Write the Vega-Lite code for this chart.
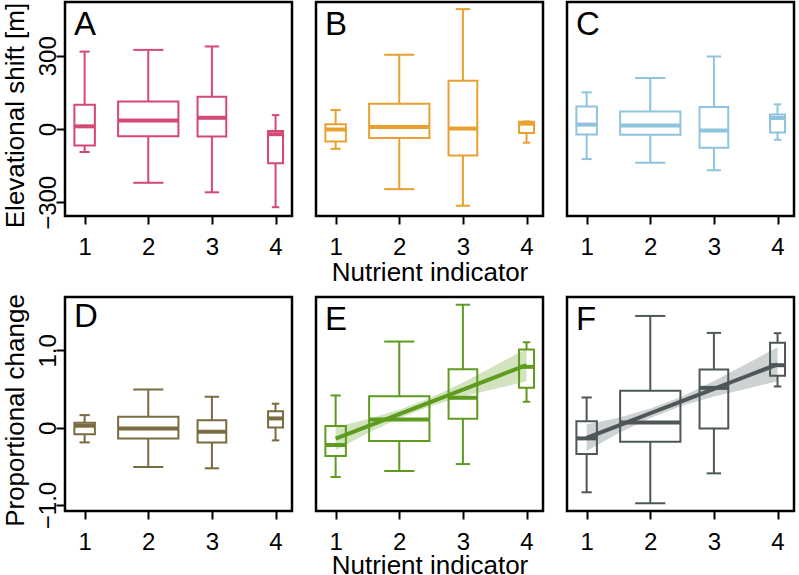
{
  "$schema": "https://vega.github.io/schema/vega-lite/v6.json",
  "padding": 0,
  "background": "white",
  "datasets": {
    "boxes": [
      {"panel":"A","x":1,"n":105,"lo":-94,"q1":-67,"med":11,"q3":99,"hi":317},
      {"panel":"A","x":2,"n":909,"lo":-220,"q1":-30,"med":35,"q3":113,"hi":324},
      {"panel":"A","x":3,"n":206,"lo":-259,"q1":-31,"med":46,"q3":132,"hi":338},
      {"panel":"A","x":4,"n":56,"lo":-320,"q1":-140,"med":-21,"q3":-8,"hi":57},
      {"panel":"B","x":1,"n":105,"lo":-81,"q1":-51,"med":-2,"q3":20,"hi":78},
      {"panel":"B","x":2,"n":909,"lo":-246,"q1":-37,"med":8,"q3":104,"hi":304},
      {"panel":"B","x":3,"n":206,"lo":-314,"q1":-108,"med":2,"q3":198,"hi":491},
      {"panel":"B","x":4,"n":56,"lo":-56,"q1":-16,"med":22,"q3":30,"hi":31},
      {"panel":"C","x":1,"n":105,"lo":-123,"q1":-22,"med":18,"q3":92,"hi":150},
      {"panel":"C","x":2,"n":909,"lo":-138,"q1":-23,"med":14,"q3":72,"hi":209},
      {"panel":"C","x":3,"n":206,"lo":-169,"q1":-77,"med":-6,"q3":90,"hi":297},
      {"panel":"C","x":4,"n":56,"lo":-44,"q1":-14,"med":45,"q3":59,"hi":101},
      {"panel":"D","x":1,"n":105,"lo":-0.19,"q1":-0.086,"med":0.026,"q3":0.065,"hi":0.163},
      {"panel":"D","x":2,"n":909,"lo":-0.508,"q1":-0.138,"med":-0.01,"q3":0.142,"hi":0.494},
      {"panel":"D","x":3,"n":206,"lo":-0.525,"q1":-0.19,"med":-0.052,"q3":0.098,"hi":0.40},
      {"panel":"D","x":4,"n":56,"lo":-0.164,"q1":0.004,"med":0.12,"q3":0.214,"hi":0.31},
      {"panel":"E","x":1,"n":105,"lo":-0.637,"q1":-0.366,"med":-0.224,"q3":0.021,"hi":0.417},
      {"panel":"E","x":2,"n":909,"lo":-0.56,"q1":-0.172,"med":0.107,"q3":0.408,"hi":1.114},
      {"panel":"E","x":3,"n":206,"lo":-0.47,"q1":0.116,"med":0.387,"q3":0.756,"hi":1.59},
      {"panel":"E","x":4,"n":56,"lo":0.335,"q1":0.516,"med":0.787,"q3":1.01,"hi":1.105},
      {"panel":"F","x":1,"n":105,"lo":-0.835,"q1":-0.34,"med":-0.138,"q3":0.085,"hi":0.391},
      {"panel":"F","x":2,"n":909,"lo":-0.977,"q1":-0.181,"med":0.068,"q3":0.477,"hi":1.445},
      {"panel":"F","x":3,"n":206,"lo":-0.59,"q1":-0.009,"med":0.515,"q3":0.752,"hi":1.226},
      {"panel":"F","x":4,"n":56,"lo":0.533,"q1":0.671,"med":0.808,"q3":1.097,"hi":1.222}
    ],
    "fits": [
      {"panel":"E","x":1,"fit":-0.14,"lo":-0.29,"hi":0.01},
      {"panel":"E","x":1.5,"fit":0.018,"lo":-0.072,"hi":0.108},
      {"panel":"E","x":2,"fit":0.177,"lo":0.122,"hi":0.232},
      {"panel":"E","x":2.5,"fit":0.335,"lo":0.28,"hi":0.39},
      {"panel":"E","x":3,"fit":0.493,"lo":0.403,"hi":0.583},
      {"panel":"E","x":3.5,"fit":0.652,"lo":0.502,"hi":0.802},
      {"panel":"E","x":4,"fit":0.81,"lo":0.6,"hi":1.02},
      {"panel":"F","x":1,"fit":-0.13,"lo":-0.3,"hi":0.04},
      {"panel":"F","x":1.5,"fit":0.028,"lo":-0.072,"hi":0.128},
      {"panel":"F","x":2,"fit":0.187,"lo":0.127,"hi":0.247},
      {"panel":"F","x":2.5,"fit":0.345,"lo":0.285,"hi":0.405},
      {"panel":"F","x":3,"fit":0.503,"lo":0.403,"hi":0.603},
      {"panel":"F","x":3.5,"fit":0.662,"lo":0.502,"hi":0.822},
      {"panel":"F","x":4,"fit":0.82,"lo":0.6,"hi":1.04}
    ]
  },
  "columns": 3,
  "spacing": {"row": 81, "column": 24},
  "bounds": "flush",
  "concat": [
    {
      "title": {"text": "A"},
      "width": 227, "height": 214,
      "data": {"name": "boxes"},
      "transform": [{"filter": "datum.panel == 'A'"}],
      "encoding": {"x": {"field": "x", "type": "quantitative", "scale": {"domain": [0.77, 4.18], "nice": false, "zero": false}, "axis": {"values": [1,2,3,4], "format": "d", "title": null}}},
      "layer": [
        {"mark": {"type": "rule", "color": "#D54873", "strokeWidth": 2}, "encoding": {"y": {"field": "lo", "type": "quantitative", "title": "Elevational shift [m]", "scale": {"domain": [-356, 520], "nice": false, "zero": false}, "axis": {"values": [-300,0,300], "labelAngle": 270, "tickSize": 9, "labelPadding": -4, "titlePadding": 8, "titleY": 113}}, "y2": {"field": "q1"}}},
        {"mark": {"type": "rule", "color": "#D54873", "strokeWidth": 2}, "encoding": {"y": {"field": "q3", "type": "quantitative", "title": "Elevational shift [m]"}, "y2": {"field": "hi"}}},
        {"mark": {"type": "bar", "stroke": "#D54873", "strokeWidth": 2, "fill": "white", "fillOpacity": 0}, "encoding": {"y": {"field": "q1", "type": "quantitative", "title": "Elevational shift [m]"}, "y2": {"field": "q3"}, "size": {"field": "n", "type": "quantitative", "scale": {"type": "sqrt", "domain": [0, 900], "range": [0, 60]}, "legend": null}}},
        {"mark": {"type": "tick", "orient": "horizontal", "color": "#D54873", "thickness": 4, "opacity": 1}, "encoding": {"y": {"field": "med", "type": "quantitative", "title": "Elevational shift [m]"}, "size": {"field": "n", "type": "quantitative", "scale": {"type": "sqrt", "domain": [0, 900], "range": [0, 60]}, "legend": null}}},
        {"mark": {"type": "tick", "orient": "horizontal", "color": "#D54873", "thickness": 2, "opacity": 1}, "encoding": {"y": {"field": "lo", "type": "quantitative", "title": "Elevational shift [m]"}, "size": {"field": "n", "type": "quantitative", "scale": {"type": "sqrt", "domain": [0, 900], "range": [0, 30]}, "legend": null}}},
        {"mark": {"type": "tick", "orient": "horizontal", "color": "#D54873", "thickness": 2, "opacity": 1}, "encoding": {"y": {"field": "hi", "type": "quantitative", "title": "Elevational shift [m]"}, "size": {"field": "n", "type": "quantitative", "scale": {"type": "sqrt", "domain": [0, 900], "range": [0, 30]}, "legend": null}}}
      ],
      "resolve": {"scale": {"size": "independent"}}
    },
    {
      "title": {"text": "B"},
      "width": 227, "height": 214,
      "data": {"name": "boxes"},
      "transform": [{"filter": "datum.panel == 'B'"}],
      "encoding": {"x": {"field": "x", "type": "quantitative", "scale": {"domain": [0.77, 4.18], "nice": false, "zero": false}, "axis": {"values": [1,2,3,4], "format": "d", "title": "Nutrient indicator", "titlePadding": 0}}},
      "layer": [
        {"mark": {"type": "rule", "color": "#E9A030", "strokeWidth": 2}, "encoding": {"y": {"field": "lo", "type": "quantitative", "scale": {"domain": [-356, 520], "nice": false, "zero": false}, "axis": null}, "y2": {"field": "q1"}}},
        {"mark": {"type": "rule", "color": "#E9A030", "strokeWidth": 2}, "encoding": {"y": {"field": "q3", "type": "quantitative", "axis": null}, "y2": {"field": "hi"}}},
        {"mark": {"type": "bar", "stroke": "#E9A030", "strokeWidth": 2, "fill": "white", "fillOpacity": 0}, "encoding": {"y": {"field": "q1", "type": "quantitative", "axis": null}, "y2": {"field": "q3"}, "size": {"field": "n", "type": "quantitative", "scale": {"type": "sqrt", "domain": [0, 900], "range": [0, 60]}, "legend": null}}},
        {"mark": {"type": "tick", "orient": "horizontal", "color": "#E9A030", "thickness": 4, "opacity": 1}, "encoding": {"y": {"field": "med", "type": "quantitative", "axis": null}, "size": {"field": "n", "type": "quantitative", "scale": {"type": "sqrt", "domain": [0, 900], "range": [0, 60]}, "legend": null}}},
        {"mark": {"type": "tick", "orient": "horizontal", "color": "#E9A030", "thickness": 2, "opacity": 1}, "encoding": {"y": {"field": "lo", "type": "quantitative", "axis": null}, "size": {"field": "n", "type": "quantitative", "scale": {"type": "sqrt", "domain": [0, 900], "range": [0, 30]}, "legend": null}}},
        {"mark": {"type": "tick", "orient": "horizontal", "color": "#E9A030", "thickness": 2, "opacity": 1}, "encoding": {"y": {"field": "hi", "type": "quantitative", "axis": null}, "size": {"field": "n", "type": "quantitative", "scale": {"type": "sqrt", "domain": [0, 900], "range": [0, 30]}, "legend": null}}}
      ],
      "resolve": {"scale": {"size": "independent"}}
    },
    {
      "title": {"text": "C"},
      "width": 227, "height": 214,
      "data": {"name": "boxes"},
      "transform": [{"filter": "datum.panel == 'C'"}],
      "encoding": {"x": {"field": "x", "type": "quantitative", "scale": {"domain": [0.77, 4.18], "nice": false, "zero": false}, "axis": {"values": [1,2,3,4], "format": "d", "title": null}}},
      "layer": [
        {"mark": {"type": "rule", "color": "#8EC4DD", "strokeWidth": 2}, "encoding": {"y": {"field": "lo", "type": "quantitative", "scale": {"domain": [-356, 520], "nice": false, "zero": false}, "axis": null}, "y2": {"field": "q1"}}},
        {"mark": {"type": "rule", "color": "#8EC4DD", "strokeWidth": 2}, "encoding": {"y": {"field": "q3", "type": "quantitative", "axis": null}, "y2": {"field": "hi"}}},
        {"mark": {"type": "bar", "stroke": "#8EC4DD", "strokeWidth": 2, "fill": "white", "fillOpacity": 0}, "encoding": {"y": {"field": "q1", "type": "quantitative", "axis": null}, "y2": {"field": "q3"}, "size": {"field": "n", "type": "quantitative", "scale": {"type": "sqrt", "domain": [0, 900], "range": [0, 60]}, "legend": null}}},
        {"mark": {"type": "tick", "orient": "horizontal", "color": "#8EC4DD", "thickness": 4, "opacity": 1}, "encoding": {"y": {"field": "med", "type": "quantitative", "axis": null}, "size": {"field": "n", "type": "quantitative", "scale": {"type": "sqrt", "domain": [0, 900], "range": [0, 60]}, "legend": null}}},
        {"mark": {"type": "tick", "orient": "horizontal", "color": "#8EC4DD", "thickness": 2, "opacity": 1}, "encoding": {"y": {"field": "lo", "type": "quantitative", "axis": null}, "size": {"field": "n", "type": "quantitative", "scale": {"type": "sqrt", "domain": [0, 900], "range": [0, 30]}, "legend": null}}},
        {"mark": {"type": "tick", "orient": "horizontal", "color": "#8EC4DD", "thickness": 2, "opacity": 1}, "encoding": {"y": {"field": "hi", "type": "quantitative", "axis": null}, "size": {"field": "n", "type": "quantitative", "scale": {"type": "sqrt", "domain": [0, 900], "range": [0, 30]}, "legend": null}}}
      ],
      "resolve": {"scale": {"size": "independent"}}
    },
    {
      "title": {"text": "D"},
      "width": 227, "height": 214,
      "data": {"name": "boxes"},
      "transform": [{"filter": "datum.panel == 'D'"}],
      "encoding": {"x": {"field": "x", "type": "quantitative", "scale": {"domain": [0.77, 4.18], "nice": false, "zero": false}, "axis": {"values": [1,2,3,4], "format": "d", "title": null}}},
      "layer": [
        {"mark": {"type": "rule", "color": "#7A6B40", "strokeWidth": 2}, "encoding": {"y": {"field": "lo", "type": "quantitative", "title": "Proportional change", "scale": {"domain": [-1.077, 1.69], "nice": false, "zero": false}, "axis": {"values": [-1,0,1], "labelExpr": "datum.value == 0 ? '0' : format(datum.value, '.1f')", "labelAngle": 270, "tickSize": 9, "labelPadding": -4, "titlePadding": 8, "titleY": 113}}, "y2": {"field": "q1"}}},
        {"mark": {"type": "rule", "color": "#7A6B40", "strokeWidth": 2}, "encoding": {"y": {"field": "q3", "type": "quantitative", "title": "Proportional change"}, "y2": {"field": "hi"}}},
        {"mark": {"type": "bar", "stroke": "#7A6B40", "strokeWidth": 2, "fill": "white", "fillOpacity": 0}, "encoding": {"y": {"field": "q1", "type": "quantitative", "title": "Proportional change"}, "y2": {"field": "q3"}, "size": {"field": "n", "type": "quantitative", "scale": {"type": "sqrt", "domain": [0, 900], "range": [0, 60]}, "legend": null}}},
        {"mark": {"type": "tick", "orient": "horizontal", "color": "#7A6B40", "thickness": 4, "opacity": 1}, "encoding": {"y": {"field": "med", "type": "quantitative", "title": "Proportional change"}, "size": {"field": "n", "type": "quantitative", "scale": {"type": "sqrt", "domain": [0, 900], "range": [0, 60]}, "legend": null}}},
        {"mark": {"type": "tick", "orient": "horizontal", "color": "#7A6B40", "thickness": 2, "opacity": 1}, "encoding": {"y": {"field": "lo", "type": "quantitative", "title": "Proportional change"}, "size": {"field": "n", "type": "quantitative", "scale": {"type": "sqrt", "domain": [0, 900], "range": [0, 30]}, "legend": null}}},
        {"mark": {"type": "tick", "orient": "horizontal", "color": "#7A6B40", "thickness": 2, "opacity": 1}, "encoding": {"y": {"field": "hi", "type": "quantitative", "title": "Proportional change"}, "size": {"field": "n", "type": "quantitative", "scale": {"type": "sqrt", "domain": [0, 900], "range": [0, 30]}, "legend": null}}}
      ],
      "resolve": {"scale": {"size": "independent"}}
    },
    {
      "title": {"text": "E"},
      "width": 227, "height": 214,
      "data": {"name": "boxes"},
      "transform": [{"filter": "datum.panel == 'E'"}],
      "encoding": {"x": {"field": "x", "type": "quantitative", "scale": {"domain": [0.77, 4.18], "nice": false, "zero": false}, "axis": {"values": [1,2,3,4], "format": "d", "title": "Nutrient indicator", "titlePadding": -2}}},
      "layer": [
        {"mark": {"type": "rule", "color": "#5E9B1E", "strokeWidth": 2}, "encoding": {"y": {"field": "lo", "type": "quantitative", "scale": {"domain": [-1.077, 1.69], "nice": false, "zero": false}, "axis": null}, "y2": {"field": "q1"}}},
        {"mark": {"type": "rule", "color": "#5E9B1E", "strokeWidth": 2}, "encoding": {"y": {"field": "q3", "type": "quantitative", "axis": null}, "y2": {"field": "hi"}}},
        {"mark": {"type": "bar", "stroke": "#5E9B1E", "strokeWidth": 2, "fill": "white", "fillOpacity": 0}, "encoding": {"y": {"field": "q1", "type": "quantitative", "axis": null}, "y2": {"field": "q3"}, "size": {"field": "n", "type": "quantitative", "scale": {"type": "sqrt", "domain": [0, 900], "range": [0, 60]}, "legend": null}}},
        {"mark": {"type": "tick", "orient": "horizontal", "color": "#5E9B1E", "thickness": 4, "opacity": 1}, "encoding": {"y": {"field": "med", "type": "quantitative", "axis": null}, "size": {"field": "n", "type": "quantitative", "scale": {"type": "sqrt", "domain": [0, 900], "range": [0, 60]}, "legend": null}}},
        {"mark": {"type": "tick", "orient": "horizontal", "color": "#5E9B1E", "thickness": 2, "opacity": 1}, "encoding": {"y": {"field": "lo", "type": "quantitative", "axis": null}, "size": {"field": "n", "type": "quantitative", "scale": {"type": "sqrt", "domain": [0, 900], "range": [0, 30]}, "legend": null}}},
        {"mark": {"type": "tick", "orient": "horizontal", "color": "#5E9B1E", "thickness": 2, "opacity": 1}, "encoding": {"y": {"field": "hi", "type": "quantitative", "axis": null}, "size": {"field": "n", "type": "quantitative", "scale": {"type": "sqrt", "domain": [0, 900], "range": [0, 30]}, "legend": null}}},
        {"data": {"name": "fits"}, "transform": [{"filter": "datum.panel == 'E'"}], "mark": {"type": "area", "color": "#5E9B1E", "opacity": 0.28}, "encoding": {"y": {"field": "lo", "type": "quantitative", "axis": null}, "y2": {"field": "hi"}}},
        {"data": {"name": "fits"}, "transform": [{"filter": "datum.panel == 'E'"}], "mark": {"type": "line", "color": "#5E9B1E", "strokeWidth": 4}, "encoding": {"y": {"field": "fit", "type": "quantitative", "axis": null}}}
      ],
      "resolve": {"scale": {"size": "independent"}}
    },
    {
      "title": {"text": "F"},
      "width": 227, "height": 214,
      "data": {"name": "boxes"},
      "transform": [{"filter": "datum.panel == 'F'"}],
      "encoding": {"x": {"field": "x", "type": "quantitative", "scale": {"domain": [0.77, 4.18], "nice": false, "zero": false}, "axis": {"values": [1,2,3,4], "format": "d", "title": null}}},
      "layer": [
        {"mark": {"type": "rule", "color": "#4E5757", "strokeWidth": 2}, "encoding": {"y": {"field": "lo", "type": "quantitative", "scale": {"domain": [-1.077, 1.69], "nice": false, "zero": false}, "axis": null}, "y2": {"field": "q1"}}},
        {"mark": {"type": "rule", "color": "#4E5757", "strokeWidth": 2}, "encoding": {"y": {"field": "q3", "type": "quantitative", "axis": null}, "y2": {"field": "hi"}}},
        {"mark": {"type": "bar", "stroke": "#4E5757", "strokeWidth": 2, "fill": "white", "fillOpacity": 0}, "encoding": {"y": {"field": "q1", "type": "quantitative", "axis": null}, "y2": {"field": "q3"}, "size": {"field": "n", "type": "quantitative", "scale": {"type": "sqrt", "domain": [0, 900], "range": [0, 60]}, "legend": null}}},
        {"mark": {"type": "tick", "orient": "horizontal", "color": "#4E5757", "thickness": 4, "opacity": 1}, "encoding": {"y": {"field": "med", "type": "quantitative", "axis": null}, "size": {"field": "n", "type": "quantitative", "scale": {"type": "sqrt", "domain": [0, 900], "range": [0, 60]}, "legend": null}}},
        {"mark": {"type": "tick", "orient": "horizontal", "color": "#4E5757", "thickness": 2, "opacity": 1}, "encoding": {"y": {"field": "lo", "type": "quantitative", "axis": null}, "size": {"field": "n", "type": "quantitative", "scale": {"type": "sqrt", "domain": [0, 900], "range": [0, 30]}, "legend": null}}},
        {"mark": {"type": "tick", "orient": "horizontal", "color": "#4E5757", "thickness": 2, "opacity": 1}, "encoding": {"y": {"field": "hi", "type": "quantitative", "axis": null}, "size": {"field": "n", "type": "quantitative", "scale": {"type": "sqrt", "domain": [0, 900], "range": [0, 30]}, "legend": null}}},
        {"data": {"name": "fits"}, "transform": [{"filter": "datum.panel == 'F'"}], "mark": {"type": "area", "color": "#4E5757", "opacity": 0.27}, "encoding": {"y": {"field": "lo", "type": "quantitative", "axis": null}, "y2": {"field": "hi"}}},
        {"data": {"name": "fits"}, "transform": [{"filter": "datum.panel == 'F'"}], "mark": {"type": "line", "color": "#4E5757", "strokeWidth": 4}, "encoding": {"y": {"field": "fit", "type": "quantitative", "axis": null}}}
      ],
      "resolve": {"scale": {"size": "independent"}}
    }
  ],
  "config": {
    "font": "Liberation Sans",
    "view": {"stroke": "black", "strokeWidth": 2.5},
    "axis": {"grid": false, "domain": false, "ticks": true, "tickColor": "black", "tickWidth": 2, "tickSize": 8, "labelFont": "Liberation Sans", "labelFontSize": 24, "labelColor": "black", "labelPadding": 11, "titleFont": "Liberation Sans", "titleFontSize": 26, "titleFontWeight": "normal", "titleColor": "black", "titlePadding": 0},
    "title": {"font": "Liberation Sans", "fontSize": 33, "fontWeight": "normal", "color": "black", "anchor": "start", "frame": "group", "offset": -40, "dx": 9, "baseline": "alphabetic"}
  }
}
